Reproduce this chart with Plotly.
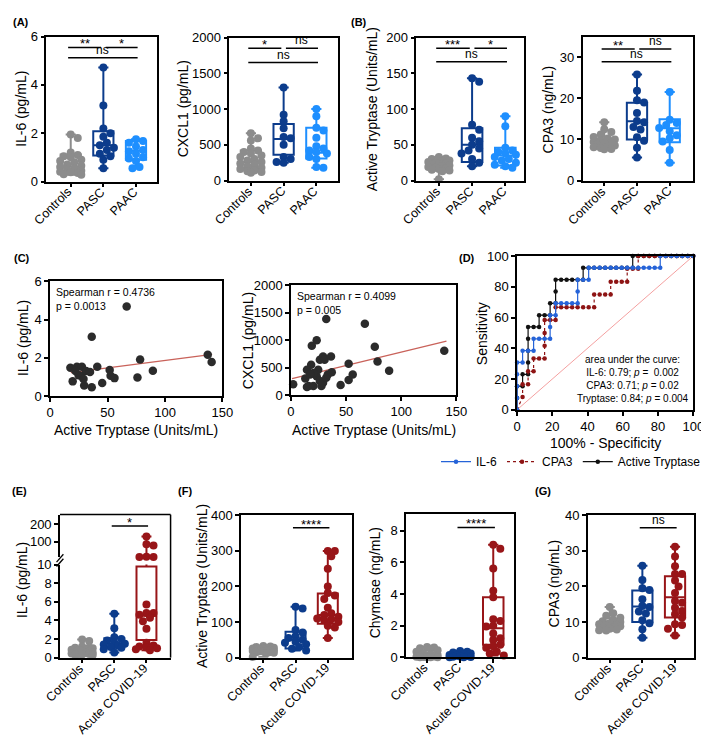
import numpy as np
import plotly.graph_objects as go

W, H = 709, 737
FONT = "Liberation Sans, Arial, sans-serif"

# ------------------------------------------------------------------ data
groups_top = ["Controls", "PASC", "PAAC"]
groups_bottom = ["Controls", "PASC", "Acute COVID-19"]

# IL-6 (pg/mL)
il6_controls = [1.95, 1.8, 1.2, 1.1, 1.05, 1.0, 0.9, 0.85, 0.8, 0.7, 0.65, 0.6, 0.55, 0.5, 0.45, 0.4, 0.38, 0.35, 0.3, 0.28]
il6_pasc = [4.72, 3.15, 2.2, 2.0, 1.85, 1.6, 1.5, 1.4, 1.3, 1.15, 1.05, 0.9, 0.55]
il6_paac = [1.75, 1.68, 1.6, 1.45, 1.3, 1.25, 1.15, 1.0, 0.95, 0.85, 0.6, 0.55]
il6_acute = [130, 85, 78, 13, 12.5, 12, 5.7, 4.8, 4.8, 4.6, 4.3, 3.9, 3.1, 1.6, 1.3, 1.2, 1.1, 1.0, 0.9, 0.8]
# box stats: [min, q1, median, q3, max]
il6_controls_box = [0.28, 0.4, 0.62, 1.12, 1.95]
il6_pasc_box = [0.55, 1.08, 1.5, 2.08, 4.72]
il6_paac_box = [0.55, 0.9, 1.27, 1.68, 1.75]
il6_acute_box = [0.8, 1.9, 4.5, 9.8, 130]

# CXCL1 (pg/mL)
cxcl1_controls = [660, 590, 560, 450, 420, 400, 380, 350, 330, 300, 280, 260, 240, 220, 200, 180, 160, 140, 130, 120, 110]
cxcl1_pasc = [1300, 920, 830, 730, 610, 590, 500, 330, 300, 260, 250]
cxcl1_paac = [1000, 900, 740, 700, 600, 480, 450, 420, 400, 380, 330, 300, 190, 180]
cxcl1_controls_box = [110, 175, 260, 420, 660]
cxcl1_pasc_box = [250, 360, 580, 790, 1300]
cxcl1_paac_box = [180, 310, 390, 740, 1000]

# Active tryptase (Units/mL)
tryp_controls = [33, 31, 30, 28, 27, 26, 25, 24, 23, 22, 21, 20, 19, 18, 17, 16, 15, 14, 13, 2]
tryp_pasc = [143, 138, 78, 71, 60, 55, 50, 45, 42, 38, 30, 25, 20]
tryp_paac = [90, 76, 46, 42, 40, 38, 36, 33, 30, 28, 25, 22, 20, 18]
tryp_acute = [300, 300, 285, 250, 200, 182, 175, 165, 140, 125, 120, 115, 110, 108, 105, 100, 90, 85, 55]
tryp_controls_box = [2, 15, 21, 27, 33]
tryp_pasc_box = [20, 26, 50, 73, 143]
tryp_paac_box = [18, 21, 35, 46, 90]
tryp_acute_box = [55, 95, 120, 180, 300]

# CPA3 (ng/mL)
cpa3_controls = [14.2, 12.5, 11.8, 11.2, 10.6, 10.2, 10.0, 9.7, 9.4, 9.2, 9.0, 8.8, 8.5, 8.3, 8.1, 7.9, 7.7, 7.6]
cpa3_pasc = [25.8, 21.8, 19.5, 19.0, 16.4, 14.5, 14.2, 13.0, 12.4, 10.5, 9.7, 8.0, 5.6]
cpa3_paac = [21.5, 14.8, 14.0, 13.5, 12.8, 12.0, 11.0, 10.3, 9.5, 7.4, 4.3]
cpa3_acute = [31.2, 28.4, 25.7, 23.5, 23.5, 21.7, 20.0, 18.2, 15.9, 15.4, 14.0, 13.1, 12.2, 11.3, 9.4, 9.2, 8.1, 6.2]
cpa3_controls_box = [7.6, 8.4, 9.2, 10.2, 14.2]
cpa3_pasc_box = [5.6, 10.0, 14.4, 18.9, 25.8]
cpa3_paac_box = [4.3, 9.3, 12.7, 14.9, 21.5]
cpa3_acute_box = [6.2, 11.3, 17.0, 22.9, 31.2]

# Chymase (ng/mL)
chym_controls = [0.65, 0.62, 0.58, 0.55, 0.45, 0.35, 0.25, 0.2, 0.15, 0.1, 0.08, 0.05, 0.03, 0.02, 0.01, 0.0, 0.0, 0.0]
chym_pasc = [0.4, 0.35, 0.3, 0.25, 0.2, 0.15, 0.1, 0.08, 0.05, 0.03, 0.02, 0.01, 0.0]
chym_acute = [7.1, 6.85, 5.6, 4.2, 3.8, 2.4, 2.3, 2.0, 1.95, 1.5, 1.2, 1.1, 0.8, 0.7, 0.6, 0.35, 0.25, 0.12]
chym_controls_box = [0.0, 0.02, 0.12, 0.45, 0.65]
chym_pasc_box = [0.0, 0.02, 0.08, 0.25, 0.4]
chym_acute_box = [0.12, 0.8, 1.83, 3.8, 7.1]

# Correlations (C)
corr1_tryp = [66.6, 36.2, 17.6, 19.6, 23.3, 24.8, 27.6, 26.8, 29.6, 31.3, 29.0, 36.2, 41.0, 45.3, 51.8, 52.6, 56.0, 76.0, 78.3, 89.4, 137.2, 140.6, 22.0, 34.7]
corr1_il6 = [4.69, 3.10, 1.48, 0.77, 1.53, 1.09, 1.53, 1.06, 0.55, 1.31, 0.89, 0.46, 1.53, 0.68, 1.36, 1.06, 0.94, 0.97, 1.91, 1.33, 2.16, 1.79, 1.31, 1.26]
fit1_x = [18, 141]
fit1_y = [1.23, 2.18]
corr2_tryp = [2, 32, 23.3, 18.9, 18.3, 14.5, 13, 16, 14.5, 20.3, 23.3, 26.2, 29.1, 30.5, 26.2, 27.6, 29.1, 32, 33.4, 36.3, 37, 24.7, 20.3, 17.4, 45, 52.3, 52.3, 56, 67, 76, 78.5, 89, 139]
corr2_cxcl1 = [196, 1386, 1000, 898, 553, 464, 303, 167, 149, 167, 345, 643, 702, 643, 256, 167, 226, 315, 375, 702, 416, 464, 405, 375, 184, 571, 274, 375, 1300, 880, 613, 446, 809]
fit2_x = [1, 141]
fit2_y = [300, 985]
spearman1 = "Spearman r = 0.4736<br>p = 0.0013"
spearman2 = "Spearman r = 0.4099<br>p = 0.005"

# ROC (D)
roc_il6_x = [0, 0, 0, 0, 0, 3.125, 3.125, 6.25, 9.375, 9.375, 12.5, 15.625, 18.75, 18.75, 18.75, 21.875, 21.875,
             25, 28.125, 31.25, 34.375, 34.375, 34.375, 37.5, 40.625, 40.625, 43.75, 46.875, 50, 53.125, 56.25,
             59.375, 62.5, 65.625, 68.75, 71.875, 75, 78.125, 81.25, 81.25, 84.375, 87.5, 90.625, 93.75, 96.875, 100]
roc_il6_y = [0, 7.69, 15.38, 23.08, 30.77, 30.77, 38.46, 38.46, 38.46, 46.15, 46.15, 46.15, 46.15, 53.85, 61.54,
             61.54, 69.23, 69.23, 69.23, 69.23, 69.23, 76.92, 84.62, 84.62, 84.62, 92.31, 92.31, 92.31, 92.31,
             92.31, 92.31, 92.31, 92.31, 92.31, 92.31, 92.31, 92.31, 92.31, 92.31, 100, 100, 100, 100, 100, 100, 100]
roc_cpa3_x = [0, 3.125, 3.125, 6.25, 6.25, 9.375, 9.375, 12.5, 15.625, 15.625, 15.625, 15.625, 18.75, 21.875,
              21.875, 25, 28.125, 31.25, 34.375, 37.5, 40.625, 43.75, 43.75, 46.875, 50, 53.125, 53.125, 56.25,
              59.375, 62.5, 62.5, 65.625, 68.75, 68.75, 71.875, 75, 78.125, 81.25, 84.375, 87.5, 90.625, 93.75,
              96.875, 100]
roc_cpa3_y = [0, 8.33, 16.67, 16.67, 25, 25, 33.33, 33.33, 33.33, 41.67, 50, 58.33, 58.33, 58.33, 66.67, 66.67,
              66.67, 66.67, 66.67, 66.67, 66.67, 66.67, 75, 75, 75, 75, 83.33, 83.33, 83.33, 83.33, 91.67, 91.67,
              91.67, 100, 100, 100, 100, 100, 100, 100, 100, 100, 100, 100]
roc_tryp_x = [0, 0, 0, 3.125, 3.125, 6.25, 6.25, 6.25, 6.25, 6.25, 9.375, 12.5, 12.5, 15.625, 18.75, 18.75,
              21.875, 21.875, 21.875, 25, 28.125, 31.25, 34.375, 37.5, 37.5, 40.625, 43.75, 46.875, 50, 53.125,
              56.25, 59.375, 62.5, 65.625, 65.625, 68.75, 71.875, 75, 78.125, 81.25, 84.375, 87.5, 90.625, 93.75,
              96.875, 100]
roc_tryp_y = [0, 7.69, 15.38, 15.38, 23.08, 23.08, 30.77, 38.46, 46.15, 53.85, 53.85, 53.85, 61.54, 61.54, 61.54,
              69.23, 69.23, 76.92, 84.62, 84.62, 84.62, 84.62, 84.62, 84.62, 92.31, 92.31, 92.31, 92.31, 92.31,
              92.31, 92.31, 92.31, 92.31, 92.31, 100, 100, 100, 100, 100, 100, 100, 100, 100, 100, 100, 100]
roc_ref_x = [0, 100]
roc_ref_y = [0, 100]
auc_text = ("area under the curve:<br>IL-6: 0.79; <i>p</i> =  0.002<br>"
            "CPA3: 0.71; <i>p</i> = 0.02<br>Tryptase: 0.84; <i>p</i> = 0.004")

# significance labels: (group i, group j, label, bar height)
sig_il6 = [(0, 1, "**", 5.55), (1, 2, "*", 5.55), (0, 2, "ns", 5.12)]
sig_cxcl1 = [(0, 1, "*", 1850), (1, 2, "ns", 1850), (0, 2, "ns", 1650)]
sig_tryp = [(0, 1, "***", 185), (1, 2, "*", 185), (0, 2, "ns", 166)]
sig_cpa3 = [(0, 1, "**", 32), (1, 2, "ns", 32), (0, 2, "ns", 28.9)]
sig_il6_acute = [(1, 2, "*", 190)]
sig_tryp_acute = [(1, 2, "****", 365)]
sig_chym_acute = [(1, 2, "****", 8.2)]
sig_cpa3_acute = [(1, 2, "ns", 36.5)]

# ------------------------------------------------------------------ style
GRAY = "#8c8c8c"
DBLUE = "#0c3c8c"
LBLUE = "#1e8fff"
DRED = "#981518"
top_colors = [GRAY, DBLUE, LBLUE]
bot_colors = [GRAY, DBLUE, DRED]
BOXW = 0.62
WHISKW = 0.5


def ydom(top, bot):
    return [1 - bot / H, 1 - top / H]


def xdom(a, b):
    return [a / W, b / W]


# panel geometry (pixels) and ranges
P = {
    1: dict(x=(35, 148), y=(22, 170), xr=(-0.75, 2.64), yr=(0, 6), yt=[0, 2, 4, 6]),
    2: dict(x=(222, 333), y=(23, 169), xr=(-0.66, 2.66), yr=(0, 2000), yt=[0, 500, 1000, 1500, 2000]),
    3: dict(x=(413, 523), y=(23, 169), xr=(-0.68, 2.56), yr=(0, 200), yt=[0, 50, 100, 150, 200]),
    4: dict(x=(583, 696), y=(22, 169), xr=(-0.66, 2.72), yr=(0, 35), yt=[0, 10, 20, 30]),
    5: dict(x=(39, 215), y=(272, 389), xr=(0, 150), yr=(0, 6), xt=[0, 50, 100, 150], yt=[0, 2, 4, 6]),
    6: dict(x=(285, 454), y=(276, 388), xr=(0, 150), yr=(0, 2000), xt=[0, 50, 100, 150],
            yt=[0, 500, 1000, 1500, 2000]),
    7: dict(x=(516, 696), y=(246, 403), xr=(0, 100), yr=(0, 100), xt=[0, 20, 40, 60, 80, 100],
            yt=[0, 20, 40, 60, 80, 100]),
    8: dict(x=(49, 162), y=(561, 656), xr=(-0.69, 2.75), yr=(0, 10), yt=[0, 2, 4, 6, 8, 10]),
    9: dict(x=(49, 162), y=(510, 553.6), xr=(-0.69, 2.75), yr=(10, 256), yt=[100, 200]),
    10: dict(x=(234, 347), y=(510.7, 656), xr=(-0.69, 2.74), yr=(0, 400), yt=[0, 100, 200, 300, 400]),
    11: dict(x=(402.7, 513.3), y=(509.3, 655.7), xr=(-0.63, 2.64), yr=(0, 9.05), yt=[0, 2, 4, 6, 8]),
    12: dict(x=(588.3, 696.7), y=(510.7, 656), xr=(-0.67, 2.58), yr=(0, 40), yt=[0, 10, 20, 30, 40]),
}


def scales(n):
    p = P[n]
    px = (p["x"][1] - p["x"][0]) / (p["xr"][1] - p["xr"][0])
    py = (p["y"][1] - p["y"][0]) / (p["yr"][1] - p["yr"][0])
    return px, py


def swarm_offsets(vals, py, px, diam=8.0, maxoff=11.0):
    vals = np.asarray(vals, float)
    order = np.argsort(-vals, kind="stable")
    step = diam * 0.45
    cands = [0.0]
    k = 1
    while k * step <= maxoff + 1e-9:
        cands += [k * step, -k * step]
        k += 1
    placed = []
    off = np.zeros(len(vals))
    for i in order:
        y = vals[i] * py
        best, bestd, chosen = 0.0, -1.0, None
        for c in cands:
            d = min((np.hypot(c - a, y - b) for a, b in placed), default=1e9)
            if d >= diam * 0.8:
                chosen = c
                break
            if d > bestd:
                bestd, best = d, c
        if chosen is None:
            chosen = best
        placed.append((chosen, y))
        off[i] = chosen / px
    return off


fig = go.Figure()
shapes = []
annotations = []

axis_common = dict(showline=True, linecolor="black", linewidth=1.5, ticks="outside", ticklen=4,
                   tickwidth=1.5, tickcolor="black", showgrid=False, zeroline=False, mirror=True,
                   tickfont=dict(size=13, color="black", family=FONT))


def box_trace(pos, stats, color, xa, ya):
    mn, q1, med, q3, mx = stats
    return go.Box(x=[pos], lowerfence=[mn], q1=[q1], median=[med], q3=[q3], upperfence=[mx],
                  width=BOXW, whiskerwidth=WHISKW, line=dict(color=color, width=2),
                  fillcolor="rgba(255,255,255,0)", boxpoints=False, xaxis=xa, yaxis=ya,
                  showlegend=False, hoverinfo="skip", orientation="v")


def points_trace(pos, vals, color, n, xa, ya, lo=None, hi=None):
    vals = np.asarray(vals, float)
    mask = np.ones(len(vals), bool)
    if lo is not None:
        mask &= vals > lo
    if hi is not None:
        mask &= vals <= hi
    v = vals[mask]
    px, py = scales(n)
    off = swarm_offsets(v, py, px)
    return go.Scatter(x=pos + off, y=v, mode="markers", marker=dict(color=color, size=8),
                      cliponaxis=False, xaxis=xa, yaxis=ya, showlegend=False, hoverinfo="skip")


def add_sig(n, bars, xa, ya):
    for (i, j, lab, h) in bars:
        x0, x1 = i - 0.08, j + 0.05
        for (a, b, _, hh) in bars:
            if hh == h and (a, b) != (i, j):
                if a == j:
                    x1 = j - 0.07
                if b == i:
                    x0 = i + 0.07
        shapes.append(dict(type="line", xref=xa, yref=ya, x0=x0, x1=x1, y0=h, y1=h,
                           line=dict(color="black", width=1.5)))
        star = "*" in lab
        annotations.append(dict(xref=xa, yref=ya, x=(x0 + x1) / 2, y=h, text=lab, showarrow=False,
                                yanchor="bottom", yshift=-6 if star else -1,
                                font=dict(size=13 if star else 12, color="black", family=FONT)))


def box_panel(n, datasets, stats, colors, sig):
    xa, ya = f"x{n}", f"y{n}"
    for k, (s, c) in enumerate(zip(stats, colors)):
        fig.add_trace(box_trace(k, s, c, xa, ya))
    for k, (d, c) in enumerate(zip(datasets, colors)):
        fig.add_trace(points_trace(k, d, c, n, xa, ya))
    add_sig(n, sig, xa, ya)


layout_axes = {}


def category_labels(n, cats, ybot):
    for k, c in enumerate(cats):
        annotations.append(dict(xref=f"x{n}", yref="paper", x=k, y=1 - (ybot + 2) / H, text=c,
                                textangle=-45, xanchor="right", yanchor="top", xshift=5.5,
                                showarrow=False, borderpad=0,
                                font=dict(size=12.5, color="black", family=FONT)))


def set_axes(n, cat=None):
    p = P[n]
    xa = dict(axis_common, domain=xdom(*p["x"]), range=list(p["xr"]), anchor=f"y{n}")
    if cat is not None:
        xa.update(tickmode="array", tickvals=[0, 1, 2], showticklabels=False)
        category_labels(n, cat, p["y"][1])
    else:
        xa.update(tickmode="array", tickvals=p["xt"])
    ya = dict(axis_common, domain=ydom(*p["y"]), range=list(p["yr"]), anchor=f"x{n}",
              tickmode="array", tickvals=p["yt"])
    layout_axes[f"xaxis{n}"] = xa
    layout_axes[f"yaxis{n}"] = ya


# ---- row 1: A and B
box_panel(1, [il6_controls, il6_pasc, il6_paac], [il6_controls_box, il6_pasc_box, il6_paac_box],
          top_colors, sig_il6)
box_panel(2, [cxcl1_controls, cxcl1_pasc, cxcl1_paac], [cxcl1_controls_box, cxcl1_pasc_box, cxcl1_paac_box],
          top_colors, sig_cxcl1)
box_panel(3, [tryp_controls, tryp_pasc, tryp_paac], [tryp_controls_box, tryp_pasc_box, tryp_paac_box],
          top_colors, sig_tryp)
box_panel(4, [cpa3_controls, cpa3_pasc, cpa3_paac], [cpa3_controls_box, cpa3_pasc_box, cpa3_paac_box],
          top_colors, sig_cpa3)
for n in (1, 2, 3, 4):
    set_axes(n, cat=groups_top)

# ---- C: correlations
PT = "#2b2b2b"
FIT = "#c9625a"
for n, xs, ys, fx, fy, txt in [(5, corr1_tryp, corr1_il6, fit1_x, fit1_y, spearman1),
                               (6, corr2_tryp, corr2_cxcl1, fit2_x, fit2_y, spearman2)]:
    fig.add_trace(go.Scatter(x=fx, y=fy, mode="lines", line=dict(color=FIT, width=1.3),
                             xaxis=f"x{n}", yaxis=f"y{n}", showlegend=False, hoverinfo="skip"))
    fig.add_trace(go.Scatter(x=xs, y=ys, mode="markers", marker=dict(color=PT, size=8.5),
                             cliponaxis=False, xaxis=f"x{n}", yaxis=f"y{n}", showlegend=False,
                             hoverinfo="skip"))
    annotations.append(dict(xref=f"x{n} domain", yref=f"y{n} domain", x=0.025, y=0.975, xanchor="left",
                            yanchor="top", align="left", text=txt, showarrow=False,
                            font=dict(size=10.5, color="black", family=FONT)))
    set_axes(n)

# ---- D: ROC
fig.add_trace(go.Scatter(x=roc_ref_x, y=roc_ref_y, mode="lines", line=dict(color="#f4a0a0", width=1),
                         xaxis="x7", yaxis="y7", showlegend=False, hoverinfo="skip"))
fig.add_trace(go.Scatter(x=roc_tryp_x, y=roc_tryp_y, mode="lines+markers", name="Active Tryptase",
                         line=dict(color="#111111", width=1.2), marker=dict(size=4.5, color="#111111"),
                         xaxis="x7", yaxis="y7", legendrank=3, cliponaxis=False))
fig.add_trace(go.Scatter(x=roc_cpa3_x, y=roc_cpa3_y, mode="lines+markers", name="CPA3",
                         line=dict(color="#8e1414", width=1.2, dash="dot"), marker=dict(size=4.5, color="#8e1414"),
                         xaxis="x7", yaxis="y7", legendrank=2, cliponaxis=False))
fig.add_trace(go.Scatter(x=roc_il6_x, y=roc_il6_y, mode="lines+markers", name="IL-6",
                         line=dict(color="#2563d8", width=1.2), marker=dict(size=4.5, color="#2563d8"),
                         xaxis="x7", yaxis="y7", legendrank=1, cliponaxis=False))
annotations.append(dict(xref="x7 domain", yref="y7 domain", x=0.985, y=0.025, xanchor="right",
                        yanchor="bottom", align="center", text=auc_text, showarrow=False,
                        font=dict(size=10, color="black", family=FONT)))
set_axes(7)

# ---- E: IL-6 with broken axis (lower segment axis 8, upper segment axis 9)
e_data = [il6_controls, il6_pasc, il6_acute]
e_stats = [il6_controls_box, il6_pasc_box, il6_acute_box]
for k, (s, c) in enumerate(zip(e_stats, bot_colors)):
    fig.add_trace(box_trace(k, s, c, "x8", "y8"))
# upper segment: whisker continuation (clipped to the upper axis range)
for k, (s, c) in enumerate(zip(e_stats, bot_colors)):
    if s[4] > P[9]["yr"][0]:
        half = BOXW * WHISKW / 2
        fig.add_trace(go.Scatter(x=[k, k, None, k - half, k + half], y=[s[3], s[4], None, s[4], s[4]],
                                 mode="lines", line=dict(color=c, width=2), xaxis="x8", yaxis="y9",
                                 showlegend=False, hoverinfo="skip"))
for ya, lo, hi, n in [("y8", None, 10, 8), ("y9", 10, None, 9)]:
    for k, (d, c) in enumerate(zip(e_data, bot_colors)):
        arr = np.asarray(d, float)
        m = np.ones(len(arr), bool)
        if lo is not None:
            m &= arr > lo
        if hi is not None:
            m &= arr <= hi
        if m.any():
            fig.add_trace(points_trace(k, d, c, n, "x8", ya, lo=lo, hi=hi))
add_sig(9, sig_il6_acute, "x8", "y9")
set_axes(8, cat=groups_bottom)
layout_axes["xaxis8"]["mirror"] = False
layout_axes["yaxis8"]["mirror"] = False
p9 = P[9]
layout_axes["yaxis9"] = dict(axis_common, domain=ydom(*p9["y"]), range=list(p9["yr"]), anchor="x8",
                             tickmode="array", tickvals=p9["yt"], mirror=False)
# frame pieces for broken-axis panel (top, right) and break marks
ex0, ex1 = P[8]["x"]
shapes.append(dict(type="line", xref="paper", yref="paper", x0=ex0 / W, x1=ex1 / W, y0=1 - 510 / H,
                   y1=1 - 510 / H, line=dict(color="black", width=1.5)))
shapes.append(dict(type="line", xref="paper", yref="paper", x0=ex1 / W, x1=ex1 / W, y0=1 - 510 / H,
                   y1=1 - 656 / H, line=dict(color="black", width=1.5)))
for dy in (0, 4.5):
    shapes.append(dict(type="line", xref="paper", yref="paper", x0=45.5 / W, x1=52.5 / W,
                       y0=1 - (563 - dy) / H, y1=1 - (555 - dy) / H, line=dict(color="black", width=1.3)))

# ---- F and G
box_panel(10, [tryp_controls, tryp_pasc, tryp_acute], [tryp_controls_box, tryp_pasc_box, tryp_acute_box],
          bot_colors, sig_tryp_acute)
box_panel(11, [chym_controls, chym_pasc, chym_acute], [chym_controls_box, chym_pasc_box, chym_acute_box],
          bot_colors, sig_chym_acute)
box_panel(12, [cpa3_controls, cpa3_pasc, cpa3_acute], [cpa3_controls_box, cpa3_pasc_box, cpa3_acute_box],
          bot_colors, sig_cpa3_acute)
for n in (10, 11, 12):
    set_axes(n, cat=groups_bottom)

# ---- titles
ytitles = [("IL-6 (pg/mL)", 9, 96), ("CXCL1 (pg/mL)", 175, 96), ("Active Tryptase (Units/mL)", 368, 96),
           ("CPA3 (ng/mL)", 548, 96), ("IL-6 (pg/mL)", 12, 330), ("CXCL1 (pg/mL)", 241, 332),
           ("Sensitivity", 481, 325), ("IL-6 (pg/mL)", 10, 577), ("Active Tryptase (Units/mL)", 194, 583),
           ("Chymase (ng/mL)", 371, 580), ("CPA3 (ng/mL)", 554, 580)]
for t, x, y in ytitles:
    annotations.append(dict(xref="paper", yref="paper", x=x / W, y=1 - y / H, text=t, textangle=-90,
                            showarrow=False, xanchor="center", yanchor="middle",
                            font=dict(size=14, color="black", family=FONT)))
xtitles = [("Active Tryptase (Units/mL)", 127, 424), ("Active Tryptase (Units/mL)", 370, 424),
           ("100% - Specificity", 606, 437)]
for t, x, y in xtitles:
    annotations.append(dict(xref="paper", yref="paper", x=x / W, y=1 - y / H, text=t, showarrow=False,
                            xanchor="center", yanchor="middle", borderpad=0,
                            font=dict(size=14, color="black", family=FONT)))
letters = [("(A)", 9, 7), ("(B)", 355, 7), ("(C)", 10, 248), ("(D)", 465, 248), ("(E)", 8, 486),
           ("(F)", 177, 486), ("(G)", 542, 486)]
for t, x, y in letters:
    annotations.append(dict(xref="paper", yref="paper", x=x / W, y=1 - y / H, text=f"<b>{t}</b>",
                            showarrow=False, xanchor="center", yanchor="middle",
                            font=dict(size=11, color="black", family=FONT)))

fig.update_layout(
    width=W, height=H, autosize=False, margin=dict(l=0, r=0, t=0, b=0),
    paper_bgcolor="white", plot_bgcolor="white", boxmode="overlay",
    font=dict(family=FONT, color="black"),
    shapes=shapes, annotations=annotations,
    showlegend=True,
    legend=dict(orientation="h", x=1.0, xanchor="right", y=1 - 456 / H, yanchor="middle",
                font=dict(size=12, color="black", family=FONT), itemwidth=30,
                bgcolor="rgba(0,0,0,0)", traceorder="normal"),
    **layout_axes,
)

fig.write_html("out.html")
